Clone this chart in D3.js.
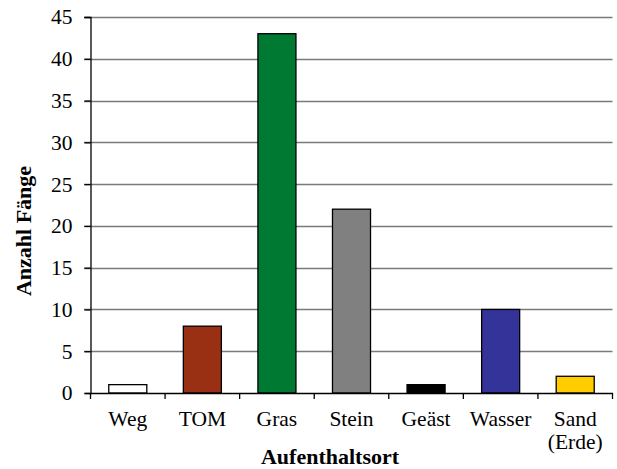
<!DOCTYPE html>
<html><head><meta charset="utf-8">
<script src="https://cdn.jsdelivr.net/npm/d3@7"></script>
<style>body{margin:0;background:#fff}svg{display:block}svg text{font-family:'Liberation Serif','Times New Roman',serif !important}</style>
</head><body>
<svg id="c" width="617" height="469"></svg>
<script>
const categories = ["Weg","TOM","Gras","Stein","Geäst","Wasser","Sand (Erde)"];
const values = [1,8,43,22,1,10,2];
const colors = ["#ffffff","#993014","#007a33","#808080","#000000","#333399","#ffcc00"];
const yTicks = [0,5,10,15,20,25,30,35,40,45];

const svg = d3.select("#c");
const m = {left:90.5, right:612.5, top:17, bottom:393};
const x = d3.scaleBand().domain(categories).range([m.left,m.right]).paddingInner(0.49).paddingOuter(0.245);
const xb = d3.scaleBand().domain(categories).range([m.left,m.right]);
const y = d3.scaleLinear().domain([0,45]).range([m.bottom,m.top]);
const font = "'Liberation Serif','Times New Roman',serif";

// gridlines
svg.append("g").selectAll("line").data(yTicks.filter(d=>d>0)).join("line")
  .attr("x1",84).attr("x2",m.right).attr("y1",d=>Math.round(y(d))+0.5).attr("y2",d=>Math.round(y(d))+0.5)
  .attr("stroke","#7a7a7a").attr("stroke-width",1.3);

// y axis
const ya = svg.append("g").attr("transform",`translate(${m.left},0)`)
  .call(d3.axisLeft(y).tickValues(yTicks).tickSize(6).tickPadding(12));
ya.attr("font-family",font);
ya.select(".domain").attr("stroke","#000").attr("stroke-width",1.3);
ya.selectAll(".tick line").attr("stroke","#000").attr("stroke-width",1.3);
ya.selectAll("text").style("font-family",font).style("font-size","21.5px").attr("fill","#000");

// bars
svg.append("g").selectAll("rect").data(categories).join("rect")
  .attr("x",d=>x(d)).attr("width",x.bandwidth())
  .attr("y",(d,i)=>y(values[i])).attr("height",(d,i)=>y(0)-y(values[i]))
  .attr("fill",(d,i)=>colors[i]).attr("stroke","#000").attr("stroke-width",1.3);

// x axis
const xa = svg.append("g").attr("transform",`translate(0,${m.bottom})`)
  .call(d3.axisBottom(xb).tickSize(0).tickFormat(""));
xa.select(".domain").attr("stroke","#000").attr("stroke-width",1.3);
svg.append("g").selectAll("line").data(d3.range(categories.length+1)).join("line")
  .attr("x1",i=>m.left+i*xb.step()).attr("x2",i=>m.left+i*xb.step())
  .attr("y1",m.bottom).attr("y2",m.bottom+6).attr("stroke","#000").attr("stroke-width",1.3);

svg.append("g").selectAll("text").data(categories).join("text")
  .attr("x",d=>xb(d)+xb.bandwidth()/2).attr("y",426)
  .attr("text-anchor","middle").style("font-family",font).style("font-size","21.5px")
  .each(function(d){
    const parts = d.split(" ");
    d3.select(this).selectAll("tspan").data(parts).join("tspan")
      .attr("x",xb(d)+xb.bandwidth()/2).attr("dy",(p,i)=>i?23:0).text(p=>p);
  });

svg.append("text").attr("x",330).attr("y",464).attr("text-anchor","middle")
  .style("font-family",font).style("font-size","22px").attr("font-weight","bold").text("Aufenthaltsort");
svg.append("text").attr("transform","translate(31,231) rotate(-90)").attr("text-anchor","middle")
  .style("font-family",font).style("font-size","22px").attr("font-weight","bold").text("Anzahl Fänge");
</script>
</body></html>
